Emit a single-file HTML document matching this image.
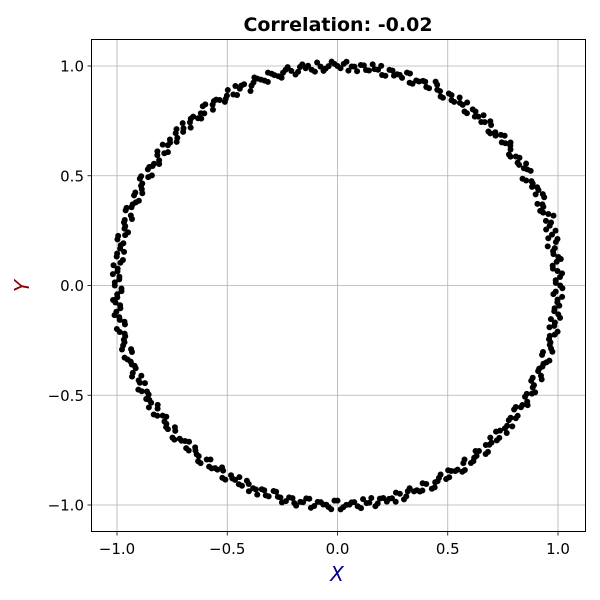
<!DOCTYPE html>
<html><head><meta charset="utf-8">
<style>
body{margin:0;background:#fff;}
svg{display:block;font-family:"DejaVu Sans","Liberation Sans",sans-serif;}
</style></head>
<body>
<svg id="chart" width="600" height="600" viewBox="0 0 600 600" xmlns="http://www.w3.org/2000/svg">
<rect width="600" height="600" fill="#fff"/>
<text x="338" y="31" text-anchor="middle" font-size="19" font-weight="bold">Correlation: -0.02</text>
<g id="grid"></g>
<g id="points"></g>
<rect x="91.5" y="39.5" width="494" height="492" fill="none" stroke="#000" stroke-width="1"/>
<g id="ticks"></g>
<text x="337" y="581" text-anchor="middle" font-size="20" font-style="italic" fill="#00008b">X</text>
<text transform="translate(29,286) rotate(-90)" text-anchor="middle" font-size="20" font-style="italic" fill="#8b0000">Y</text>
</svg>
<script>
const xTicks=[-1.0,-0.5,0.0,0.5,1.0];
const yTicks=[-1.0,-0.5,0.0,0.5,1.0];
const tickLabels=["\u22121.0","\u22120.5","0.0","0.5","1.0"];
const angles=[0,1.4,3.1,4.5,6.2,7.4,9.1,10.6,12.0,13.4,15.1,16.5,18.0,19.6,21.0,22.3,24.1,25.5,27.0,28.4,30.1,31.6,33.0,34.4,36.0,37.5,39.1,40.4,42.0,43.6,45.0,46.4,48.1,49.5,51.0,52.6,54.0,55.4,57.1,58.5,60.0,61.5,63.1,64.4,66.0,67.4,69.1,70.5,72.0,73.6,75.0,76.5,78.1,79.4,81.0,82.5,84.0,85.6,87.1,88.4,90.0,91.5,93.1,94.4,96.0,97.6,99.0,100.4,102.1,103.5,105.0,106.6,108.0,109.5,111.1,112.4,114.0,115.6,117.0,118.5,120.1,121.4,123.0,124.5,126.0,127.6,129.1,130.4,132.0,133.5,135.0,136.6,138.1,139.4,141.0,142.5,144.0,145.6,147.0,148.4,150.1,151.5,153.0,154.6,156.0,157.5,159.1,160.4,162.0,163.5,165.0,166.6,168.1,169.4,171.0,172.5,174.0,175.6,177.1,178.4,180.0,181.5,183.1,184.4,186.0,187.6,189.0,190.4,192.1,193.5,195.0,196.6,198.0,199.5,201.1,202.4,204.0,205.6,207.0,208.5,210.1,211.4,213.0,214.5,216.0,217.6,219.1,220.4,222.0,223.5,225.0,226.6,228.1,229.4,231.0,232.5,234.0,235.6,237.0,238.4,240.1,241.5,243.0,244.6,246.0,247.5,249.1,250.4,252.0,253.5,255.0,256.6,258.1,259.4,261.0,262.5,264.0,265.6,267.1,268.4,270.0,271.5,273.1,274.4,276.0,277.6,279.0,280.4,282.1,283.5,285.0,286.6,288.0,289.5,291.1,292.4,294.0,295.6,297.0,298.5,300.1,301.4,303.0,304.5,306.0,307.6,309.1,310.4,312.0,313.5,315.0,316.6,318.1,319.4,321.0,322.5,324.0,325.6,327.0,328.4,330.1,331.5,333.0,334.6,336.0,337.5,339.1,340.4,342.0,343.5,345.0,346.6,348.1,349.4,351.0,352.5,354.0,355.6,357.1,358.4];
const radii=[1.01,0.99,1.02,0.98,1.00,1.01,0.99,0.97,1.02,1.00,0.98,1.01,1.03,0.99,1.00,0.98,1.02,1.01,0.99,1.00,0.97,1.01,1.02,0.99,1.00,0.98,1.01,1.00,1.02,0.99,0.98,1.01,1.00,1.02,0.99,1.01,0.98,1.00,1.02,0.99,1.01,0.98,1.00,1.03,0.99,1.01,1.00,0.98,1.02,1.00,0.99,1.01,0.98,1.00,1.02,0.99,1.01,1.00,0.98,1.01,1.00,1.02,0.99,1.00,0.98,1.01,1.02,0.99,1.00,1.01,0.98,1.00,1.02,0.99,1.01,1.00,0.97,1.01,1.02,0.99,1.00,0.98,1.01,1.00,1.02,0.99,0.98,1.01,1.00,1.02,0.99,1.01,0.98,1.00,1.02,0.99,1.01,0.98,1.00,1.01,0.99,1.02,1.00,0.98,1.01,0.99,1.00,1.02,0.98,1.01,1.00,0.99,1.02,1.00,0.98,1.01,0.99,1.00,1.02,0.99,1.01,0.98,1.00,1.01,0.99,1.02,1.00,0.98,1.01,0.99,1.00,1.02,0.98,1.01,1.00,0.99,1.02,1.00,0.98,1.01,0.99,1.00,1.02,0.99,1.01,0.98,1.00,1.01,0.99,1.02,1.00,0.98,1.01,0.99,1.00,1.02,0.98,1.01,1.00,0.99,1.02,1.00,0.98,1.01,0.99,1.00,1.02,0.99,1.01,0.98,1.00,1.01,0.99,1.02,1.00,0.98,1.01,0.99,1.00,1.02,0.98,1.01,1.00,0.99,1.02,1.00,0.98,1.01,0.99,1.00,1.02,0.99,1.01,0.98,1.00,1.01,0.99,1.02,1.00,0.98,1.01,0.99,1.00,1.02,0.98,1.01,1.00,0.99,1.02,1.00,0.98,1.01,0.99,1.00,1.02,0.99,1.01,0.98,1.00,1.01,0.99,1.02,1.00,0.98,1.01,0.99,1.00,1.02,0.98,1.01,1.00,0.99,1.02,1.00,0.98,1.01,0.99,1.00,1.02,0.99,1.01,0.98,1.00,1.01,0.99,1.02,1.00,0.98,1.01,0.99,1.00,1.02];
const angles2=[0.7,2.2,3.8,5.3,6.8,8.3,9.8,11.3,12.7,14.2,15.8,17.3,18.8,20.3,21.7,23.2,24.8,26.3,27.7,29.2,30.8,32.3,33.7,35.2,36.8,38.3,39.7,41.2,42.8,44.3,45.7,47.2,48.8,50.3,51.7,53.2,54.8,56.3,57.7,59.2,60.8,62.3,63.7,65.2,66.8,68.3,69.7,71.2,72.8,74.3,75.7,77.2,78.8,80.3,81.7,83.2,84.8,86.3,87.7,89.2,90.8,92.3,93.7,95.2,96.8,98.3,99.7,101.2,102.8,104.3,105.7,107.2,108.8,110.3,111.7,113.2,114.8,116.3,117.7,119.2,120.8,122.3,123.7,125.2,126.8,128.3,129.7,131.2,132.8,134.3,135.7,137.2,138.8,140.3,141.7,143.2,144.8,146.3,147.7,149.2,150.8,152.3,153.7,155.2,156.8,158.3,159.7,161.2,162.8,164.3,165.7,167.2,168.8,170.3,171.7,173.2,174.8,176.3,177.7,179.2,180.8,182.3,183.7,185.2,186.8,188.3,189.7,191.2,192.8,194.3,195.7,197.2,198.8,200.3,201.7,203.2,204.8,206.3,207.7,209.2,210.8,212.3,213.7,215.2,216.8,218.3,219.7,221.2,222.8,224.3,225.7,227.2,228.8,230.3,231.7,233.2,234.8,236.3,237.7,239.2,240.8,242.3,243.7,245.2,246.8,248.3,249.7,251.2,252.8,254.3,255.7,257.2,258.8,260.3,261.7,263.2,264.8,266.3,267.7,269.2,270.8,272.3,273.7,275.2,276.8,278.3,279.7,281.2,282.8,284.3,285.7,287.2,288.8,290.3,291.7,293.2,294.8,296.3,297.7,299.2,300.8,302.3,303.7,305.2,306.8,308.3,309.7,311.2,312.8,314.3,315.7,317.2,318.8,320.3,321.7,323.2,324.8,326.3,327.7,329.2,330.8,332.3,333.7,335.2,336.8,338.3,339.7,341.2,342.8,344.3,345.7,347.2,348.8,350.3,351.7,353.2,354.8,356.3,357.7,359.3];
const radii2=[0.99,1.01,1.00,0.98,1.02,0.99,1.00,1.01,0.98,1.02,1.00,0.99,1.01,0.98,1.00,1.02,0.99,1.01,1.00,0.98,1.02,1.00,0.99,1.01,0.98,1.00,1.02,0.99,1.01,1.00,0.98,1.02,0.99,1.00,1.01,0.98,1.02,1.00,0.99,1.01,0.98,1.00,1.02,0.99,1.01,1.00,0.98,1.02,0.99,1.00,1.01,0.98,1.02,1.00,0.99,1.01,0.98,1.00,1.02,0.99,1.01,1.00,0.98,1.02,0.99,1.00,1.01,0.98,1.02,1.00,0.99,1.01,0.98,1.00,1.02,0.99,1.01,1.00,0.98,1.02,0.99,1.00,1.01,0.98,1.02,1.00,0.99,1.01,0.98,1.00,1.02,0.99,1.01,1.00,0.98,1.02,0.99,1.00,1.01,0.98,1.02,1.00,0.99,1.01,0.98,1.00,1.02,0.99,1.01,1.00,0.98,1.02,0.99,1.00,1.01,0.98,1.02,1.00,0.99,1.01,0.98,1.00,1.02,0.99,1.01,1.00,0.98,1.02,0.99,1.00,1.01,0.98,1.02,1.00,0.99,1.01,0.98,1.00,1.02,0.99,1.01,1.00,0.98,1.02,0.99,1.00,1.01,0.98,1.02,1.00,0.99,1.01,0.98,1.00,1.02,0.99,1.01,1.00,0.98,1.02,0.99,1.00,1.01,0.98,1.02,1.00,0.99,1.01,0.98,1.00,1.02,0.99,1.01,1.00,0.98,1.02,0.99,1.00,1.01,0.98,1.02,1.00,0.99,1.01,0.98,1.00,1.02,0.99,1.01,1.00,0.98,1.02,0.99,1.00,1.01,0.98,1.02,1.00,0.99,1.01,0.98,1.00,1.02,0.99,1.01,1.00,0.98,1.02,0.99,1.00,1.01,0.98,1.02,1.00,0.99,1.01,0.98,1.00,1.02,0.99,1.01,1.00,0.98,1.02,0.99,1.00,1.01,0.98,1.02,1.00,0.99,1.01,0.98,1.00,1.02,0.99,1.01,1.00,0.98,1.02,0.99,1.00,1.01,0.98,1.02,1.00,0.99,1.01];

const NS="http://www.w3.org/2000/svg";
function sx(v){return 337.5+v*220.5;}
function sy(v){return 285.5-v*219.5;}
const grid=document.getElementById('grid'),pts=document.getElementById('points'),tk=document.getElementById('ticks');
function mk(tag,attrs,parent){const e=document.createElementNS(NS,tag);for(const k in attrs)e.setAttribute(k,attrs[k]);parent.appendChild(e);return e;}
xTicks.forEach((v,i)=>{
  const x=sx(v);
  const g=mk('line',{x1:x,x2:x,y1:40,y2:531,stroke:'#b0b0b0','stroke-width':0.8},grid);
  
  
  const t=mk('line',{x1:x,x2:x,y1:532,y2:535.5,stroke:'#000','stroke-width':0.8},tk);
  
  
  const l=mk('text',{x:x,y:554,'text-anchor':'middle','font-size':15},tk);
  l.textContent=tickLabels[i];
  
  
});
yTicks.forEach((v,i)=>{
  const y=sy(v);
  const g=mk('line',{x1:92,x2:585,y1:y,y2:y,stroke:'#b0b0b0','stroke-width':0.8},grid);
  
  
  const t=mk('line',{x1:87.5,x2:91,y1:y,y2:y,stroke:'#000','stroke-width':0.8},tk);
  
  
  const l=mk('text',{x:84,y:y+5.5,'text-anchor':'end','font-size':15},tk);
  l.textContent=tickLabels[i];
  
  
});
function drawSet(as,rs){
  as.forEach((a,i)=>{
    const r=rs[i];const rad=a*Math.PI/180;
    const c=mk('circle',{cx:sx(r*Math.cos(rad)),cy:sy(r*Math.sin(rad)),r:3,fill:'#000'},pts);
    
    
  });
}
drawSet(angles,radii);
drawSet(angles2,radii2);
</script>
</body></html>
